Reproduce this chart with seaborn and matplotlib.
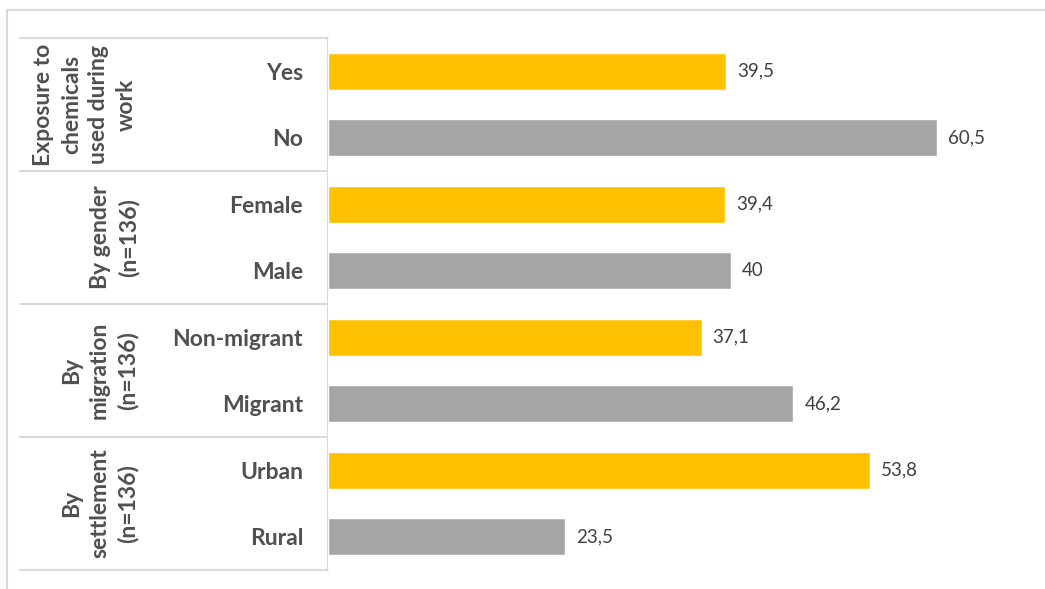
import matplotlib
matplotlib.use("Agg")
import matplotlib.pyplot as plt
import seaborn as sns
import pandas as pd

# Data
categories = ["Yes", "No", "Female", "Male", "Non-migrant", "Migrant", "Urban", "Rural"]
values = [39.5, 60.5, 39.4, 40.0, 37.1, 46.2, 53.8, 23.5]
value_labels = ["39,5", "60,5", "39,4", "40", "37,1", "46,2", "53,8", "23,5"]
groups = ["Exposure to\nchemicals\nused during\nwork", "By gender\n(n=136)",
          "By\nmigration\n(n=136)", "By\nsettlement\n(n=136)"]

GOLD = "#FFC000"
GREY = "#A5A5A5"
LINE = "#D9D9D9"
TEXT = "#505050"

sns.set_theme(style="white")
plt.rcParams["font.family"] = ["Lato", "DejaVu Sans"]

W, H = 1045, 589
fig = plt.figure(figsize=(W / 100, H / 100), dpi=100)

# pixel geometry of the bar panel
x0, x1 = 328, 1030
y_top, y_bot = 38, 570
ax = fig.add_axes([x0 / W, 1 - y_bot / H, (x1 - x0) / W, (y_bot - y_top) / H])

df = pd.DataFrame({"cat": categories, "val": values})
palette = {c: (GOLD if i % 2 == 0 else GREY) for i, c in enumerate(categories)}
sns.barplot(data=df, x="val", y="cat", hue="cat", palette=palette, order=categories,
            width=0.56, legend=False, ax=ax, saturation=1)

ax.set_xlim(0, (x1 - x0) / 10.07)
ax.set_ylim(len(categories) - 0.5, -0.5)
ax.set_xlabel("")
ax.set_ylabel("")
ax.set_xticks([])
for s in ax.spines.values():
    s.set_visible(False)
ax.tick_params(axis="y", length=0, pad=18)
for lab in ax.get_yticklabels():
    lab.set_fontweight("bold")
    lab.set_fontsize(16.5)
    lab.set_color(TEXT)

for i, (v, t) in enumerate(zip(values, value_labels)):
    ax.text(v + 1.1, i, t, va="center", ha="left", fontsize=13.5, color="#404040")

# overlay in pixel coordinates for the table frame and group labels
ov = fig.add_axes([0, 0, 1, 1], zorder=-1)
ov.set_xlim(0, W)
ov.set_ylim(H, 0)
ov.axis("off")

# outer frame
ov.plot([7, 7], [10, H], color=LINE, lw=1.5)
ov.plot([7, W], [10, 10], color=LINE, lw=1.5)
# table grid
ov.plot([x0, x0], [y_top, y_bot], color=LINE, lw=1.5)
row_h = (y_bot - y_top) / 4
for k in range(5):
    yy = y_top + k * row_h
    ov.plot([20, x0], [yy, yy], color=LINE, lw=1.5)

group_x = [85, 115, 100, 100]
for k, (g, gx) in enumerate(zip(groups, group_x)):
    yc = y_top + (k + 0.5) * row_h
    ov.text(gx, yc, g, rotation=90, ha="center", va="center", multialignment="center",
            fontsize=16.5, fontweight="bold", color=TEXT, linespacing=1.38)

fig.savefig("out.png", dpi=100, facecolor="white")
